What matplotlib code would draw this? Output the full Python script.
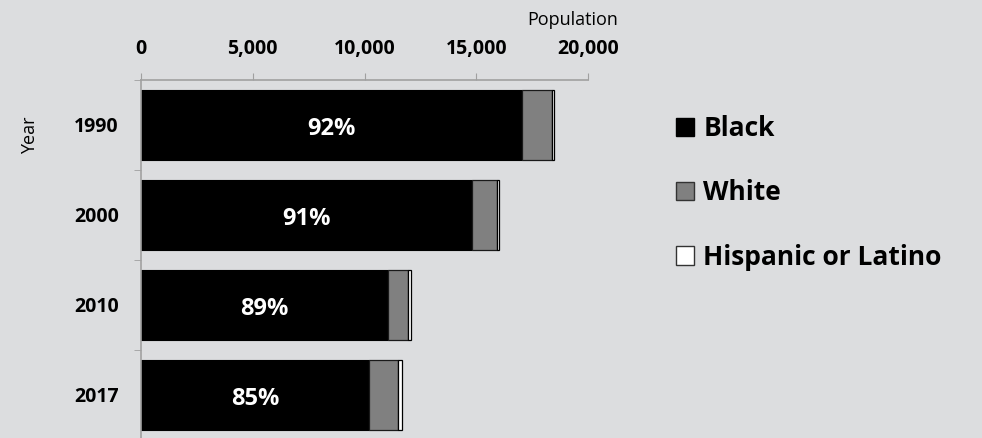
import matplotlib
matplotlib.use("Agg")
import matplotlib.pyplot as plt
import numpy as np
from matplotlib.patches import Patch

years = ["1990", "2000", "2010", "2017"]
black = [17040, 14830, 11060, 10190]
white = [1350, 1080, 870, 1300]
hispanic = [80, 130, 160, 200]
pct_labels = ["92%", "91%", "89%", "85%"]
xticks = [0, 5000, 10000, 15000, 20000]
xtick_labels = ["0", "5,000", "10,000", "15,000", "20,000"]

BG = "#DCDDDF"
plt.rcParams['font.family'] = ['Open Sans', 'DejaVu Sans']

W, H = 982, 438
fig = plt.figure(figsize=(W / 100, H / 100), dpi=100, facecolor=BG)
ax = fig.add_axes([141 / W, -2 / H, 447 / W, 360 / H], facecolor=BG)

y = np.arange(len(years))
bh = 0.78
b = np.array(black)
w = np.array(white)
h = np.array(hispanic)
ax.barh(y, b, height=bh, color="black", edgecolor="black", linewidth=0.8)
ax.barh(y, w, left=b, height=bh, color="#808080", edgecolor="#1a1a1a", linewidth=0.9)
ax.barh(y, h, left=b + w, height=bh, color="white", edgecolor="black", linewidth=0.9)

for yi, bi, lab in zip(y, b, pct_labels):
    ax.text(bi / 2, yi + 0.04, lab, color="white", fontsize=17, fontweight="bold",
            ha="center", va="center")

ax.set_xlim(0, 20000)
ax.set_ylim(len(years) - 0.5, -0.5)
ax.xaxis.tick_top()
ax.set_xticks(xticks)
ax.set_xticklabels(xtick_labels, fontsize=14, fontweight="bold")
ax.tick_params(axis="x", direction="out", length=5, color="#A0A0A0", pad=10)
ax.set_yticks(y)
ax.set_yticklabels(years, fontsize=14, fontweight="bold")
ax.tick_params(axis="y", which="major", length=0, pad=16)
ax.set_yticks(np.arange(-0.5, len(years) - 0.5, 1.0), minor=True)
ax.tick_params(axis="y", which="minor", direction="out", length=5, color="#A0A0A0")

for s in ["right", "bottom"]:
    ax.spines[s].set_visible(False)
for s in ["top", "left"]:
    ax.spines[s].set_color("#A0A0A0")
    ax.spines[s].set_linewidth(1.2)

fig.text(618 / W, 1 - 20 / H, "Population", fontsize=13, ha="right", va="center")
fig.text(30 / W, 1 - 135 / H, "Year", fontsize=13, rotation=90, ha="center", va="center")

handles = [Patch(facecolor="black", edgecolor="black"),
           Patch(facecolor="#808080", edgecolor="#333333"),
           Patch(facecolor="white", edgecolor="#333333")]
leg = fig.legend(handles, ["Black", "White", "Hispanic or Latino"],
                 loc="upper left", bbox_to_anchor=(676 / W, 1 - 115 / H),
                 frameon=False, prop={"weight": "bold", "size": 19},
                 handlelength=0.7, handleheight=0.7, handletextpad=0.34,
                 labelspacing=1.42, borderpad=0, borderaxespad=0)

fig.savefig("out.png", dpi=100, facecolor=BG)
